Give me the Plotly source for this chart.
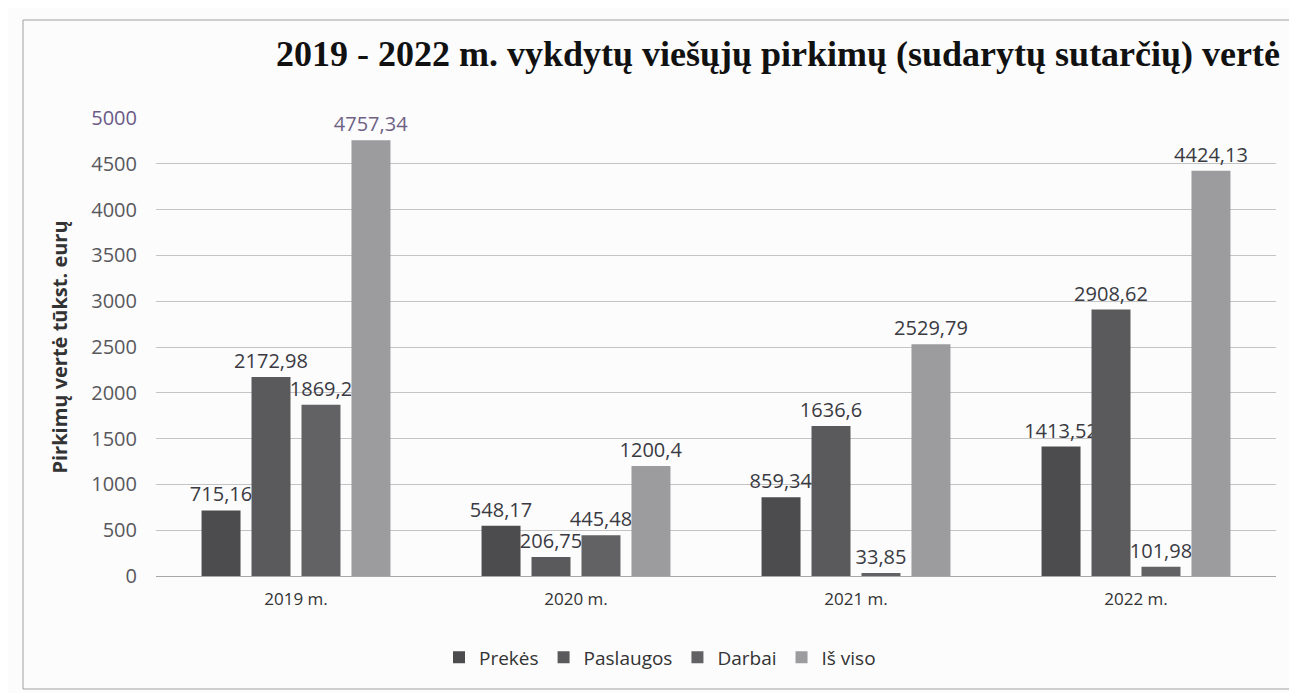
import plotly.graph_objects as go

categories = ["2019 m.", "2020 m.", "2021 m.", "2022 m."]
series_names = ["Prekės", "Paslaugos", "Darbai", "Iš viso"]
prekes = [715.16, 548.17, 859.34, 1413.52]
paslaugos = [2172.98, 206.75, 1636.6, 2908.62]
darbai = [1869.2, 445.48, 33.85, 101.98]
is_viso = [4757.34, 1200.4, 2529.79, 4424.13]
y_ticks = [0, 500, 1000, 1500, 2000, 2500, 3000, 3500, 4000, 4500, 5000]

series_values = [prekes, paslaugos, darbai, is_viso]
colors = ["#4c4c4f", "#5a5a5d", "#626265", "#9c9c9f"]
label_color = "#3a3a42"

fig = go.Figure()
for name, vals, col in zip(series_names, series_values, colors):
    lab_cols = [label_color] * len(vals)
    if name == "Iš viso":
        lab_cols[0] = "#6e6284"
    fig.add_trace(go.Bar(
        x=categories, y=vals, name=name,
        marker=dict(color=col, line=dict(width=0)),
        text=[str(v).replace(".", ",") for v in vals],
        textposition="outside",
        constraintext="none",
        textfont=dict(family="Open Sans, Liberation Sans, sans-serif", size=20, color=lab_cols),
        cliponaxis=False,
    ))

tick_text = [str(t) for t in y_ticks]
tick_text[-1] = '<span style="color:#6a5a86">5000</span>'

fig.update_layout(
    width=1297, height=693,
    paper_bgcolor="#fcfcfd", plot_bgcolor="#fcfcfd",
    barmode="group", bargap=0.286, bargroupgap=0.22,
    margin=dict(l=148, r=29, t=110, b=125),
    title=dict(
        text="<b>2019 - 2022 m. vykdytų viešųjų pirkimų (sudarytų sutarčių) vertė</b>",
        x=770 / 1297, xanchor="center", y=1 - 45 / 693, yanchor="middle",
        font=dict(family="Liberation Serif, Times New Roman, serif", size=36, color="#111111"),
    ),
    showlegend=True,
    legend=dict(
        orientation="h", x=0.45, xanchor="center", y=-0.178, yanchor="middle",
        font=dict(family="Open Sans, Liberation Sans, sans-serif", size=19, color="#333333"),
        traceorder="normal", itemwidth=30,
        bgcolor="rgba(0,0,0,0)",
    ),
    font=dict(family="Open Sans, Liberation Sans, sans-serif", color="#444444"),
)

fig.update_yaxes(
    range=[0, 5000], tickvals=y_ticks, ticktext=tick_text,
    showgrid=True, gridcolor="#c4c4c6", gridwidth=1,
    zeroline=False, showline=False,
    tickfont=dict(size=20, color="#58585c"),
    ticks="", ticklabelstandoff=18,
    title=dict(text="<b>Pirkimų vertė tūkst. eurų</b>",
               font=dict(size=20, color="#333333"), standoff=18),
)
fig.update_xaxes(
    showline=True, linecolor="#a8a8ac", linewidth=1,
    tickfont=dict(size=17, color="#333333"),
    ticks="", ticklabelstandoff=8,
)

fig.add_shape(type="rect", xref="paper", yref="paper",
              x0=(15 - 148) / 1120, x1=(1310 - 148) / 1120,
              y0=(568 - 681) / 458, y1=(568 - 12) / 458,
              line=dict(color="#a0a0a4", width=1), fillcolor="rgba(0,0,0,0)", layer="below")

fig.write_html("out.html")
